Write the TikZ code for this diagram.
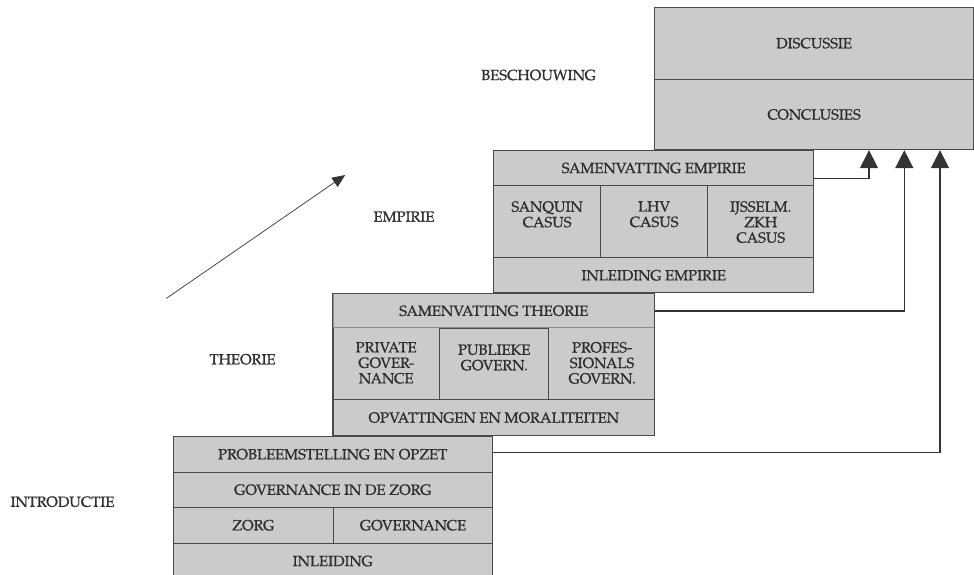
\documentclass[tikz,border=0pt]{standalone}
\usepackage{fontspec}
\setmainfont{TeX Gyre Pagella}[FakeBold=1]
\usetikzlibrary{arrows.meta,calc}
\definecolor{boxfill}{HTML}{CBCBCB}
\definecolor{boxline}{HTML}{4A4A4A}
\definecolor{softline}{HTML}{8C8C8C}
\definecolor{txtcol}{HTML}{2E2E2E}
\definecolor{conncol}{HTML}{333333}
\newcommand{\lblfont}{\fontsize{14.8}{15.5}\selectfont}
\begin{document}
\begin{tikzpicture}[x=1pt,y=-1pt,
  cell/.style={draw=boxline, fill=boxfill, line width=0.9pt, inner sep=0pt, anchor=north west,
    text=txtcol, font=\lblfont, align=center},
  softcell/.style={cell, draw=softline},
  txt/.style={text=txtcol, font=\lblfont, align=center, inner sep=0pt},
  conn/.style={draw=conncol, line width=1.5pt, -{Triangle[length=18pt,width=18pt]}},
  diag/.style={draw=conncol, line width=0.7pt, -{Triangle[length=13pt,width=11pt]}}]
\useasboundingbox (0,0) rectangle (974,574);

% Beschouwing
\node[cell, minimum width=319.3pt, minimum height=72pt] (bd) at (654,6.7) {DISCUSSIE};
\node[cell, minimum width=319.3pt, minimum height=70.6pt] (bc) at (654,78.7) {CONCLUSIES};

% Empirie
\node[cell, minimum width=320pt, minimum height=35pt] (es) at (493.3,150) {SAMENVATTING EMPIRIE};
\node[cell, minimum width=106.7pt, minimum height=72.3pt] (e1) at (493.3,185) {};
\node[cell, minimum width=107.3pt, minimum height=72.3pt] (e2) at (600,185) {};
\node[cell, minimum width=106pt, minimum height=72.3pt] (e3) at (707.3,185) {};
\node[cell, minimum width=320pt, minimum height=35pt] (ei) at (493.3,257.3) {INLEIDING EMPIRIE};
\node[txt, anchor=north] at ([yshift=-16pt]e1.north) {SANQUIN\\CASUS};
\node[txt, anchor=north] at ([yshift=-16pt]e2.north) {LHV\\CASUS};
\node[txt, anchor=north] at ([yshift=-16pt]e3.north) {IJSSELM.\\ZKH\\CASUS};

% Theorie
\node[cell, minimum width=321.3pt, minimum height=72pt] (tframe) at (332.7,327.3) {};
\node[softcell, minimum width=321.3pt, minimum height=34pt] (ts) at (332.7,293.3) {SAMENVATTING THEORIE};
\node[cell, minimum width=109pt, minimum height=71pt] (tpu) at (439.3,328.3) {};
\node[cell, minimum width=321.3pt, minimum height=35.7pt] (to) at (332.7,399.3) {OPVATTINGEN EN MORALITEITEN};
\draw[boxline, line width=0.9pt] (ts.north west) rectangle (to.south east);
\node[txt, anchor=north] at ($(tframe.north west)!0.166!(tframe.north east)+(0,14.5)$) {PRIVATE\\GOVER-\\NANCE};
\node[txt, anchor=north] at ([yshift=-16pt]tpu.north) {PUBLIEKE\\GOVERN.};
\node[txt, anchor=north] at ($(tframe.north west)!0.836!(tframe.north east)+(0,14.5)$) {PROFES-\\SIONALS\\GOVERN.};

% Introductie
\node[cell, minimum width=319.5pt, minimum height=35.5pt] (ip) at (172.5,436) {PROBLEEMSTELLING EN OPZET};
\node[cell, minimum width=319.5pt, minimum height=35.5pt] (ig) at (172.5,471.5) {GOVERNANCE IN DE ZORG};
\node[cell, minimum width=160.5pt, minimum height=35.5pt] (iz) at (172.5,507) {ZORG};
\node[cell, minimum width=159pt, minimum height=35.5pt] (igv) at (333,507) {GOVERNANCE};
\node[cell, minimum width=319.5pt, minimum height=36pt] (ii) at (172.5,542.5) {INLEIDING};

% Level labels
\node[txt] (lb) at (538.5,75) {BESCHOUWING};
\node[txt] (le) at (404,216.7) {EMPIRIE};
\node[txt] (lt) at (242.6,359.3) {THEORIE};
\node[txt] (li) at (62.5,501.7) {INTRODUCTIE};

% Connectors
\coordinate (a1) at ($(bc.south west)+(215,0)$);
\coordinate (a2) at ($(bc.south west)+(250.3,0)$);
\coordinate (a3) at ($(bc.south west)+(286,0)$);
\draw[conn] ([yshift=7.3pt]es.south east) -| (a1);
\draw[conn] (ts.east) -| (a2);
\draw[conn] ([yshift=1.5pt]ip.east) -| (a3);

% Diagonal arrow
\coordinate (d0) at (166.5,298.3);
\coordinate (d1) at (345.2,175);
\draw[diag] (d0) -- (d1);
\end{tikzpicture}
\end{document}
